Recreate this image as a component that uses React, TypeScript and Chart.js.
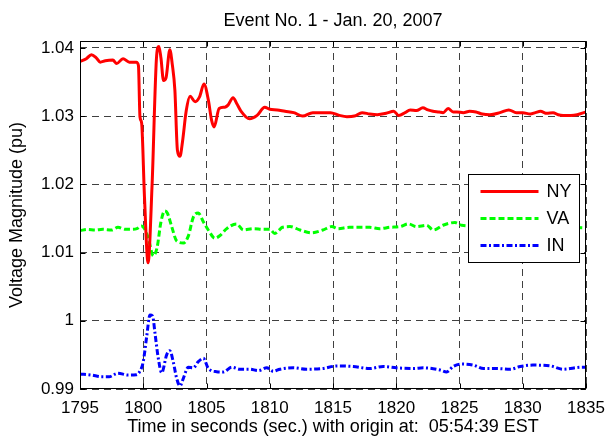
import React, { useEffect, useRef } from 'react';
import { Chart, registerables } from 'chart.js';

Chart.register(...registerables);

// Labels
const TITLE = 'Event No. 1 - Jan. 20, 2007';
const X_LABEL = 'Time in seconds (sec.) with origin at:  05:54:39 EST';
const Y_LABEL = 'Voltage Magnitude (pu)';

// Axis ticks and limits
const X_TICKS = [1795, 1800, 1805, 1810, 1815, 1820, 1825, 1830, 1835];
const Y_TICKS = [0.99, 1.0, 1.01, 1.02, 1.03, 1.04];
const X_MIN = 1795;
const X_MAX = 1835;
const Y_MIN = 0.99;
const Y_MAX = 1.041;

// NY bus voltage
const NY_T = [
  1795, 1795.5, 1795.9, 1796.3, 1796.6, 1797.0, 1797.6, 1797.9, 1798.4, 1798.9,
  1799.45, 1799.62, 1799.74, 1799.87, 1800.1, 1800.38, 1800.7, 1801.06, 1801.24, 1801.4,
  1801.6, 1801.8, 1802.1, 1802.3, 1802.5, 1802.7, 1802.9, 1803.1, 1803.4, 1803.7,
  1804.1, 1804.45, 1804.8, 1805.15, 1805.4, 1805.6, 1806.0, 1806.45, 1806.7, 1807.1,
  1807.4, 1807.7, 1808.4, 1809.0, 1809.6, 1810.0, 1810.6, 1811.2, 1811.9, 1812.6,
  1813.4, 1814.1, 1814.8, 1815.5, 1816.1, 1816.7, 1817.3, 1817.9, 1818.5, 1819.2,
  1819.8, 1820.2, 1820.7, 1821.1, 1821.6, 1822.1, 1822.5, 1822.9, 1823.4, 1823.7,
  1824.1, 1824.5, 1824.8, 1825.3, 1825.8, 1826.3, 1826.8, 1827.4, 1828.2, 1828.9,
  1829.5, 1830.0, 1830.6, 1831.0, 1831.4, 1831.9, 1832.4, 1832.8, 1833.2, 1833.8,
  1834.3, 1835,
];
const NY_V = [
  1.038, 1.0384, 1.039, 1.0385, 1.0379, 1.0381, 1.0382, 1.0377, 1.0384, 1.0379,
  1.0379, 1.0374, 1.0299, 1.029, 1.018, 1.0085, 1.02, 1.0389, 1.0402, 1.0385,
  1.0352, 1.0356, 1.0397, 1.0375, 1.0338, 1.025, 1.0241, 1.0262, 1.0308, 1.0329,
  1.0321, 1.0328, 1.0347, 1.0323, 1.0294, 1.0284, 1.0311, 1.0313, 1.0316, 1.0327,
  1.0318, 1.0308, 1.0296, 1.0301, 1.0313, 1.031, 1.0309, 1.0307, 1.0305, 1.03,
  1.0305, 1.0305, 1.0305, 1.0301, 1.0299, 1.03, 1.0305, 1.0303, 1.0302, 1.0304,
  1.0307, 1.0301, 1.0305, 1.0309, 1.0308, 1.0312, 1.0309, 1.0307, 1.0306, 1.0305,
  1.0311, 1.0306, 1.0306, 1.0305, 1.0307, 1.0306, 1.0303, 1.0302, 1.0305, 1.0309,
  1.0305, 1.0305, 1.0303, 1.0305, 1.0307, 1.0304, 1.0305, 1.0302, 1.0301, 1.0301,
  1.0302, 1.0306,
];

// VA bus voltage
const VA_T = [
  1795, 1795.6, 1796.2, 1796.8, 1797.5, 1798.0, 1798.6, 1799.1, 1799.5, 1799.85,
  1800.1, 1800.4, 1800.8, 1801.1, 1801.4, 1801.7, 1801.9, 1802.25, 1802.64, 1803.17,
  1803.56, 1803.96, 1804.35, 1804.75, 1805.14, 1805.67, 1806.07, 1806.6, 1807.38, 1807.91,
  1808.7, 1809.5, 1810.0, 1810.4, 1810.7, 1811.0, 1811.6, 1812.4, 1813.3, 1814.2,
  1814.9, 1815.4, 1816.3, 1817.1, 1817.9, 1818.7, 1819.5, 1820.3, 1820.96, 1821.6,
  1822.4, 1822.93, 1823.7, 1824.64, 1825.17, 1826, 1827, 1828, 1829, 1830,
  1831, 1832, 1833, 1834, 1835,
];
const VA_V = [
  1.0132, 1.0134, 1.0133, 1.0134, 1.0133, 1.0137, 1.0134, 1.0134, 1.0135, 1.0139,
  1.0135, 1.0121, 1.0095, 1.0108, 1.0145, 1.0161, 1.0158, 1.0138, 1.0117, 1.0114,
  1.0124, 1.0152, 1.0158, 1.0145, 1.0133, 1.0121, 1.0125, 1.0135, 1.0142, 1.0133,
  1.0135, 1.0134, 1.0134, 1.0128, 1.0132, 1.0137, 1.0138, 1.0133, 1.0129, 1.0133,
  1.0138, 1.0135, 1.0137, 1.0137, 1.0137, 1.0135, 1.0137, 1.0138, 1.0142, 1.0138,
  1.014, 1.0133, 1.014, 1.0144, 1.014, 1.0139, 1.014, 1.0138, 1.0139, 1.0138,
  1.0139, 1.0137, 1.0138, 1.0137, 1.0136,
];

// IN bus voltage
const IN_T = [
  1795, 1795.9, 1796.7, 1797.3, 1798.0, 1798.8, 1799.45, 1799.7, 1800.0, 1800.27,
  1800.53, 1800.74, 1800.93, 1801.19, 1801.46, 1801.85, 1802.1, 1802.37, 1802.64, 1802.9,
  1803.17, 1803.56, 1803.96, 1804.35, 1804.75, 1805.14, 1805.8, 1806.33, 1807.0, 1807.65,
  1808.4, 1809.1, 1809.76, 1810.28, 1810.8, 1811.86, 1812.9, 1814.2, 1815.3, 1816.6,
  1817.9, 1818.97, 1820.0, 1821.35, 1822.14, 1823.46, 1823.98, 1824.5, 1825.17, 1826.1,
  1826.9, 1827.9, 1829.0, 1829.8, 1830.8, 1832.15, 1833.2, 1834.66, 1835,
];
const IN_V = [
  0.9922, 0.99205, 0.9918, 0.9918, 0.9923, 0.99205, 0.9921, 0.9925, 0.994, 0.99766,
  1.00083, 1.0007, 0.99815, 0.99449, 0.99239, 0.995, 0.99561, 0.994, 0.99157, 0.99044,
  0.99157, 0.99318, 0.9931, 0.994, 0.9945, 0.99303, 0.99254, 0.9925, 0.9932, 0.9929,
  0.9929, 0.9927, 0.9931, 0.9926, 0.9929, 0.9931, 0.9929, 0.993, 0.99337, 0.9933,
  0.993, 0.9933, 0.9931, 0.993, 0.9931, 0.99278, 0.9925, 0.9933, 0.99366, 0.9935,
  0.993, 0.993, 0.9929, 0.9933, 0.9935, 0.9934, 0.9929, 0.9932, 0.9932,
];

const FONT = "'Liberation Sans', Arial, Helvetica, sans-serif";

const toPoints = (t: number[], v: number[]) => t.map((x, i) => ({ x, y: v[i] }));

// Axes box with inward tick marks on all four sides
const framePlugin = {
  id: 'frame',
  afterDatasetsDraw(chart: any) {
    const { ctx, chartArea, scales } = chart;
    const l = Math.round(chartArea.left) + 0.5;
    const r = Math.round(chartArea.right) - 0.5;
    const t = Math.round(chartArea.top) + 0.5;
    const b = Math.round(chartArea.bottom) - 0.5;
    const len = 5;
    ctx.save();
    ctx.setLineDash([]);
    ctx.strokeStyle = '#000';
    ctx.lineWidth = 1;
    ctx.strokeRect(l, t, r - l, b - t);
    ctx.beginPath();
    X_TICKS.forEach((v) => {
      const px = Math.round(scales.x.getPixelForValue(v)) + 0.5;
      ctx.moveTo(px, b);
      ctx.lineTo(px, b - len);
      ctx.moveTo(px, t);
      ctx.lineTo(px, t + len);
    });
    Y_TICKS.forEach((v) => {
      const py = Math.round(scales.y.getPixelForValue(v)) + 0.5;
      ctx.moveTo(l, py);
      ctx.lineTo(l + len, py);
      ctx.moveTo(r, py);
      ctx.lineTo(r - len, py);
    });
    ctx.stroke();
    ctx.restore();
  },
};

// Title centred over the plotting area
const titlePlugin = {
  id: 'plotTitle',
  afterDraw(chart: any) {
    const { ctx, chartArea } = chart;
    ctx.save();
    ctx.fillStyle = '#000';
    ctx.font = `18px ${FONT}`;
    ctx.textAlign = 'center';
    ctx.textBaseline = 'alphabetic';
    ctx.fillText(TITLE, (chartArea.left + chartArea.right) / 2, 26);
    ctx.restore();
  },
};

// Boxed legend in the right half of the plot
const legendPlugin = {
  id: 'boxLegend',
  afterDraw(chart: any) {
    const { ctx, chartArea } = chart;
    const w = 111;
    const h = 88;
    const x0 = Math.round(chartArea.right) - 7 - w + 0.5;
    const y0 = 174.5;
    ctx.save();
    ctx.fillStyle = '#fff';
    ctx.fillRect(x0, y0, w, h);
    ctx.setLineDash([]);
    ctx.strokeStyle = '#000';
    ctx.lineWidth = 1;
    ctx.strokeRect(x0, y0, w, h);
    ctx.font = `18px ${FONT}`;
    ctx.textBaseline = 'middle';
    ctx.textAlign = 'left';
    chart.data.datasets.forEach((ds: any, i: number) => {
      const cy = y0 + 17 + i * 27;
      ctx.beginPath();
      ctx.setLineDash(ds.borderDash || []);
      ctx.strokeStyle = ds.borderColor;
      ctx.lineWidth = ds.borderWidth;
      ctx.moveTo(x0 + 12, cy);
      ctx.lineTo(x0 + 70, cy);
      ctx.stroke();
      ctx.setLineDash([]);
      ctx.fillStyle = '#000';
      ctx.fillText(ds.label, x0 + 78, cy + 1);
    });
    ctx.restore();
  },
};

export default function App() {
  const canvasRef = useRef<HTMLCanvasElement | null>(null);

  useEffect(() => {
    const canvas = canvasRef.current;
    if (!canvas) return;
    const lineStyle = {
      pointRadius: 0,
      borderWidth: 3,
      fill: false,
      cubicInterpolationMode: 'monotone' as const,
      borderJoinStyle: 'round' as const,
    };
    const chart = new Chart(canvas, {
      type: 'line',
      data: {
        datasets: [
          { ...lineStyle, label: 'NY', data: toPoints(NY_T, NY_V), borderColor: '#ff0000', borderDash: [] },
          { ...lineStyle, label: 'VA', data: toPoints(VA_T, VA_V), borderColor: '#00ff00', borderDash: [6, 3] },
          { ...lineStyle, label: 'IN', data: toPoints(IN_T, IN_V), borderColor: '#0000ff', borderDash: [6, 2.5, 2, 2.5] },
        ],
      },
      options: {
        animation: false,
        responsive: false,
        devicePixelRatio: 1,
        layout: { padding: { top: 41, right: 22, bottom: 0, left: 0 } },
        plugins: { legend: { display: false }, tooltip: { enabled: false }, title: { display: false } },
        scales: {
          x: {
            type: 'linear',
            min: X_MIN,
            max: X_MAX,
            afterBuildTicks: (scale: any) => {
              scale.ticks = X_TICKS.map((value) => ({ value }));
            },
            afterFit: (scale: any) => {
              scale.height = 52;
              scale.paddingLeft = 0;
              scale.paddingRight = 0;
            },
            ticks: {
              color: '#000',
              padding: 9,
              maxRotation: 0,
              autoSkip: false,
              font: { family: FONT, size: 17 },
              callback: (value: any) => String(value),
            },
            grid: { color: '#404040', lineWidth: 1, drawTicks: false },
            border: { display: false, dash: [7, 5] },
            title: {
              display: true,
              text: X_LABEL,
              color: '#000',
              font: { family: FONT, size: 18 },
              padding: { top: 0, bottom: 3 },
            },
          },
          y: {
            type: 'linear',
            min: Y_MIN,
            max: Y_MAX,
            afterBuildTicks: (scale: any) => {
              scale.ticks = Y_TICKS.map((value) => ({ value }));
            },
            afterFit: (scale: any) => {
              scale.width = 80;
              scale.paddingTop = 0;
              scale.paddingBottom = 0;
            },
            ticks: {
              color: '#000',
              padding: 6,
              autoSkip: false,
              font: { family: FONT, size: 17 },
              callback: (value: any) => String(Number(Number(value).toFixed(2))),
            },
            grid: { color: '#404040', lineWidth: 1, drawTicks: false },
            border: { display: false, dash: [7, 5] },
            title: {
              display: true,
              text: Y_LABEL,
              color: '#000',
              font: { family: FONT, size: 18 },
              padding: { top: 6, bottom: 0 },
            },
          },
        },
      },
      plugins: [framePlugin, titlePlugin, legendPlugin],
    });
    return () => chart.destroy();
  }, []);

  return (
    <div style={{ position: 'fixed', left: 0, top: 0, width: 608, height: 441, background: '#fff' }}>
      <canvas ref={canvasRef} width={608} height={441} style={{ display: 'block' }} />
    </div>
  );
}
